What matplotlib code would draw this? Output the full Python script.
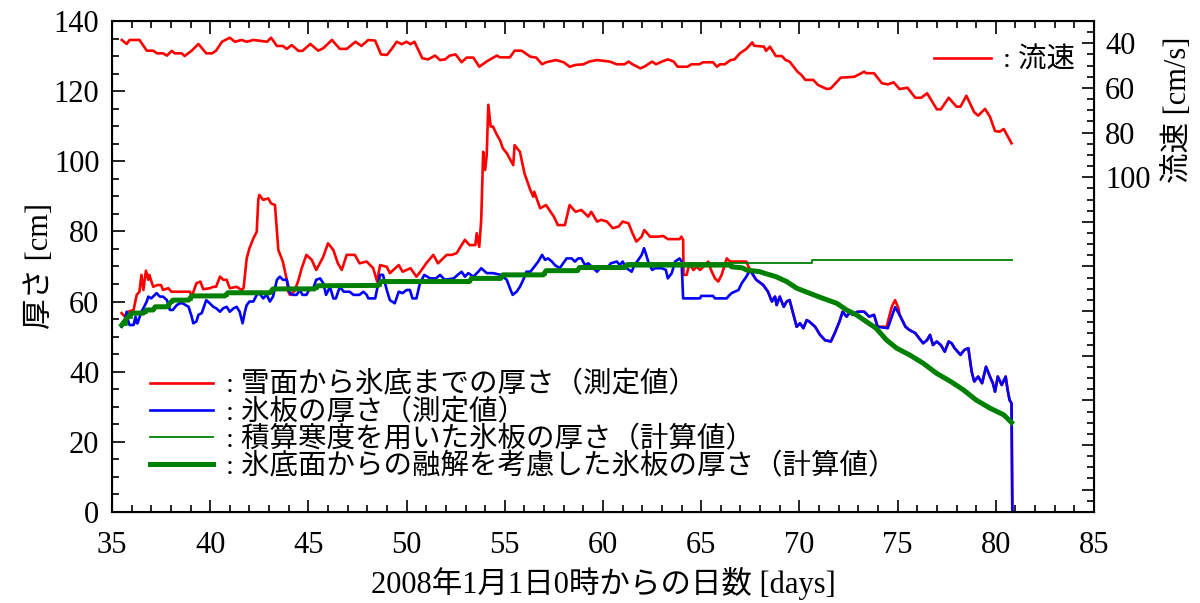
import numpy as np
import matplotlib
matplotlib.use("Agg")
import matplotlib.pyplot as plt
from matplotlib.ticker import MultipleLocator

plt.rcParams['font.family'] = ['Liberation Serif', 'Noto Sans CJK JP']

## data
# flow speed [cm/s], right axis (inverted)
flow_day = [35.5, 35.75, 35.9, 36.4, 36.77, 37.1, 37.3, 37.6, 37.8, 38.04, 38.2, 38.55, 38.7, 39.06, 39.4,
            39.8, 40.1, 40.3, 40.6, 41.0, 41.26, 41.6, 41.86, 42.2, 42.9, 43.1, 43.4, 43.7, 43.9, 44.15,
            44.5, 44.7, 45.1, 45.5, 45.76, 46.2, 46.6, 46.95, 47.4, 47.7, 48.05, 48.4, 48.7, 49.0, 49.2,
            49.5, 49.75, 50.0, 50.2, 50.4, 50.8, 51.1, 51.45, 51.7, 51.96, 52.2, 52.5, 52.8, 53.06, 53.4,
            53.7, 54.1, 54.6, 54.75, 55.26, 55.5, 55.86, 56.3, 56.6, 56.9, 57.1, 57.6, 58.0, 58.3, 58.6,
            59.0, 59.3, 59.7, 60.35, 60.7, 61.1, 61.3, 61.5, 61.9, 62.1, 62.5, 62.7, 63.0, 63.3, 63.6,
            63.8, 64.3, 64.5, 64.9, 65.1, 65.6, 65.8, 65.96, 66.2, 66.5, 66.7, 66.97, 67.3, 67.6, 67.7,
            68.2, 68.3, 68.5, 68.8, 69.1, 69.3, 69.5, 69.9, 70.1, 70.3, 70.7, 70.95, 71.4, 71.6, 72.1,
            72.8, 73.3, 73.4, 73.8, 74.2, 74.5, 74.8, 75.1, 75.5, 75.9, 76.2, 76.5, 77.0, 77.2, 77.6,
            78.0, 78.2, 78.5, 78.9, 79.1, 79.45, 79.7, 79.96, 80.2, 80.4, 80.8]
flow_val = [38.5, 40.3, 38.5, 38.5, 43.3, 43.3, 44.5, 44.5, 45.5, 43.4, 44.5, 44.5, 45.7, 43.3, 40.3,
            44.5, 44.5, 43.3, 39.3, 37.5, 39.3, 38.5, 39.3, 38.5, 39.3, 37.5, 41.2, 41.2, 42.5, 40.8,
            43.4, 43.4, 40.3, 43.3, 42.2, 38.5, 42.5, 42.5, 39.3, 41.2, 38.5, 38.8, 45.0, 45.2, 43.0,
            39.3, 40.4, 39.3, 40.4, 39.3, 46.7, 47.2, 45.5, 47.5, 47.2, 45.5, 45.0, 48.5, 46.4, 46.4,
            50.5, 48.0, 45.5, 46.3, 46.3, 43.3, 43.3, 46.0, 46.4, 49.4, 48.5, 47.5, 48.5, 50.5, 49.7,
            49.4, 48.2, 47.5, 48.2, 49.4, 49.4, 48.2, 49.4, 51.2, 50.5, 48.2, 49.4, 48.2, 47.2, 48.2,
            50.5, 50.5, 49.4, 49.4, 48.5, 48.5, 50.5, 49.4, 49.4, 47.5, 47.2, 44.5, 42.5, 39.6, 41.1,
            41.5, 43.4, 41.5, 45.7, 45.7, 47.5, 48.2, 52.7, 54.2, 56.4, 56.4, 58.7, 60.5, 60.2, 55.4,
            55.0, 52.7, 53.4, 53.4, 57.9, 58.4, 57.5, 60.5, 59.9, 64.4, 64.4, 62.4, 69.6, 69.6, 64.4,
            68.4, 68.4, 63.5, 70.9, 72.4, 69.4, 72.9, 79.3, 79.6, 78.4, 84.8]

# ice thickness, measured [cm]
ice_day = [35.49, 35.66, 35.75, 35.83, 35.9, 36.1, 36.2, 36.26, 36.3, 36.5, 36.6, 36.77, 36.85, 37.0,
           37.27, 37.44, 37.6, 37.8, 37.95, 38.1, 38.3, 38.46, 38.6, 38.9, 39.06, 39.14, 39.3, 39.4,
           39.57, 39.8, 39.98, 40.16, 40.3, 40.5, 40.67, 40.84, 41.0, 41.2, 41.35, 41.5, 41.65, 41.77,
           41.86, 42.0, 42.2, 42.37, 42.5, 42.7, 42.88, 43.04, 43.2, 43.4, 43.55, 43.7, 43.9, 44.06,
           44.2, 44.4, 44.57, 44.7, 44.9, 45.08, 45.25, 45.4, 45.6, 45.76, 45.9, 46.1, 46.27, 46.4,
           46.6, 46.8, 47.1, 47.3, 47.6, 47.8, 47.97, 48.05, 48.4, 48.65, 48.8, 48.99, 49.15, 49.4,
           49.6, 49.8, 50.0, 50.17, 50.3, 50.5, 50.68, 50.9, 51.2, 51.5, 51.7, 51.95, 52.4, 52.6,
           52.8, 52.97, 53.14, 53.4, 53.65, 53.8, 54.08, 54.4, 54.8, 55.1, 55.26, 55.4, 55.6, 55.77,
           55.94, 56.1, 56.3, 56.5, 56.7, 56.9, 57.05, 57.2, 57.4, 57.55, 57.8, 57.97, 58.15, 58.4,
           58.57, 58.74, 58.9, 59.08, 59.25, 59.5, 59.7, 59.9, 60.2, 60.4, 60.7, 60.86, 61.0, 61.2,
           61.46, 61.6, 61.8, 61.97, 62.09, 62.2, 62.3, 62.5, 62.65, 63.0, 63.2, 63.3, 63.5, 63.67,
           63.9, 64.0, 64.08, 64.94, 65.0, 65.6, 65.7, 66.3, 66.4, 66.55, 66.7, 66.9, 67.06, 67.3,
           67.48, 67.8, 68.16, 68.4, 68.6, 68.76, 68.84, 69.0, 69.2, 69.35, 69.5, 69.7, 69.86, 70.03,
           70.2, 70.37, 70.5, 70.8, 71.05, 71.3, 71.6, 71.8, 72.04, 72.2, 72.4, 72.6, 72.7, 72.96,
           73.3, 73.55, 73.8, 73.98, 74.5, 74.67, 74.87, 75.1, 75.4, 75.6, 75.9, 76.1, 76.3, 76.5,
           76.65, 76.8, 76.99, 77.2, 77.4, 77.6, 77.75, 77.9, 78.2, 78.4, 78.6, 78.77, 78.9, 79.1,
           79.3, 79.5, 79.7, 79.85, 79.96, 80.1, 80.3, 80.5, 80.6, 80.7, 80.8, 80.84]
ice_cm = [52.8, 54.7, 57.1, 54.3, 53.3, 53.3, 55.7, 53.8, 53.8, 57.1, 58.1, 60.0, 61.4, 60.9,
          62.4, 61.4, 61.4, 60.4, 57.6, 57.6, 59.0, 59.5, 59.5, 58.5, 55.7, 53.8, 54.3, 56.2,
          56.7, 60.4, 59.5, 58.5, 58.1, 57.1, 58.1, 58.5, 57.1, 58.1, 58.5, 57.1, 53.8, 57.1,
          59.0, 60.0, 60.0, 61.9, 62.4, 60.9, 61.9, 60.0, 61.4, 66.2, 67.1, 66.2, 66.2, 62.4,
          61.9, 61.9, 63.3, 61.9, 61.9, 63.8, 63.8, 66.2, 66.6, 65.2, 61.9, 64.2, 60.9, 60.9,
          64.2, 62.8, 62.8, 61.9, 61.9, 62.8, 61.9, 60.9, 60.9, 67.6, 67.6, 63.3, 60.4, 59.5,
          62.8, 62.4, 63.3, 63.3, 60.9, 60.9, 65.2, 67.6, 66.6, 66.6, 67.6, 66.2, 66.6, 67.6,
          68.5, 67.1, 68.1, 67.1, 68.5, 69.5, 68.1, 68.1, 67.6, 66.2, 63.8, 61.9, 62.8, 64.2,
          66.2, 68.5, 68.5, 69.9, 71.4, 73.3, 71.9, 72.3, 71.4, 70.4, 69.5, 70.9, 72.3, 72.3,
          71.4, 72.3, 72.3, 70.4, 70.9, 69.5, 68.5, 69.9, 69.5, 70.9, 71.4, 70.4, 71.4, 69.5,
          68.5, 70.4, 71.9, 73.3, 75.2, 73.3, 71.4, 69.0, 69.5, 69.5, 69.0, 66.6, 68.1, 71.4,
          72.3, 71.4, 60.9, 60.9, 61.6, 61.6, 60.9, 60.9, 61.6, 62.4, 62.8, 63.3, 65.2, 67.1,
          69.0, 66.2, 64.7, 62.8, 60.0, 61.4, 59.0, 61.4, 58.5, 60.0, 60.4, 56.2, 52.8, 53.8,
          52.4, 54.7, 54.3, 52.8, 50.5, 49.0, 48.6, 51.0, 54.3, 57.1, 55.7, 57.1, 56.2, 57.1,
          57.1, 55.7, 56.2, 52.8, 52.4, 55.2, 58.4, 56.2, 52.8, 51.9, 51.0, 49.5, 48.1, 49.0,
          50.5, 47.6, 48.6, 47.6, 45.7, 48.6, 48.1, 46.7, 44.8, 46.2, 46.7, 40.0, 37.2, 38.6,
          36.7, 41.4, 38.6, 36.7, 34.3, 38.6, 36.2, 38.6, 34.8, 31.9, 31.0, 0.0]

# snow surface to ice bottom, measured [cm] (up to day 67.5, then same as ice except bump)
snow_day = [35.49, 35.66, 35.83, 36.1, 36.26, 36.4, 36.5, 36.6, 36.73, 36.85, 36.9, 37.1, 37.3, 37.5,
            37.6, 37.87, 38.03, 38.97, 39.06, 39.3, 39.5, 39.65, 39.99, 40.16, 40.3, 40.5, 40.67,
            40.84, 41.0, 41.35, 41.6, 41.7, 41.86, 42.0, 42.2, 42.37, 42.45, 42.5, 42.7, 42.96, 43.1,
            43.3, 43.47, 43.7, 43.9, 43.98, 44.06, 44.3, 44.5, 44.66, 44.9, 45.17, 45.4, 45.68, 45.76,
            46.0, 46.27, 46.5, 46.7, 46.95, 47.37, 47.6, 47.97, 48.3, 48.5, 48.65, 48.99, 49.15, 49.6,
            49.8, 50.2, 50.5, 50.7, 51.0, 51.36, 51.6, 52.04, 52.3, 52.55, 52.7, 52.97, 53.2, 53.5,
            53.57, 53.7, 53.8, 53.9, 54.0, 54.08, 54.16, 54.28, 54.4, 54.6, 54.75, 54.9, 55.1, 55.43,
            55.5, 55.77, 56.0, 56.3, 56.45, 56.5, 56.8, 57.1, 57.5, 57.7, 58.06, 58.3, 58.6, 58.9,
            59.25, 59.4, 59.7, 59.9, 60.2, 60.5, 60.8, 61.0, 61.3, 61.5, 61.7, 61.97, 62.1, 62.4,
            62.8, 63.07, 63.3, 63.9, 63.99, 64.08, 64.1, 64.26, 64.4, 64.6, 64.77, 64.94, 65.1, 65.36,
            65.5, 65.7, 65.87, 66.04, 66.3, 66.47, 66.6, 66.9, 67.3]
snow_cm = [56.7, 55.7, 57.1, 57.6, 61.9, 62.8, 67.6, 63.3, 68.8, 66.2, 67.6, 64.2, 64.7, 64.7,
           63.3, 63.8, 62.8, 62.8, 61.4, 65.2, 65.7, 63.5, 63.8, 64.2, 64.2, 67.1, 66.2,
           66.2, 63.8, 64.2, 63.3, 63.8, 72.3, 75.2, 78.0, 79.9, 89.0, 90.4, 89.0, 89.4, 88.0,
           87.5, 74.7, 71.4, 66.2, 62.8, 61.9, 63.0, 66.2, 69.5, 73.3, 71.9, 69.0, 71.9, 72.8,
           76.6, 74.7, 70.9, 69.0, 73.3, 73.3, 70.9, 71.4, 69.5, 65.7, 70.4, 69.9, 68.1, 70.4,
           68.5, 69.5, 67.1, 68.5, 70.9, 73.3, 70.9, 73.3, 73.3, 73.8, 75.2, 77.6, 76.1, 76.1,
           79.5, 75.6, 83.3, 102.7, 97.5, 101.8, 116.1, 109.9, 109.9, 107.5, 106.1, 103.7, 102.3, 98.9,
           104.6, 102.7, 96.6, 91.8, 89.9, 91.3, 86.6, 87.5, 84.2, 81.8, 81.8, 87.5, 85.6, 86.1,
           84.2, 85.6, 82.8, 83.3, 82.8, 80.9, 81.4, 82.8, 82.3, 79.5, 77.1, 78.5, 80.4, 78.5,
           78.5, 78.7, 77.8, 77.8, 78.5, 77.6, 67.6, 67.6, 70.9, 69.0, 69.9, 69.0, 69.9, 71.4,
           69.0, 66.6, 65.7, 67.6, 72.3, 71.4, 71.4, 71.4, 71.4]
bump_day = [74.44, 74.7, 74.87, 75.04]
bump_cm = [52.8, 58.5, 60.4, 58.1]

# ice thickness from degree-days (thin green), step values
fdd_day = [35.5, 35.75, 36.0, 36.77, 37.2, 37.95, 38.1, 39.06, 40.9, 43.2, 45.5, 48.7, 53.3, 54.9,
           57.1, 58.8, 61.2, 70.66, 80.8]
fdd_cm = [53.3, 55.2, 56.7, 57.6, 58.5, 59.5, 60.4, 61.6, 62.5, 63.6, 64.5, 65.7, 66.6, 67.6,
          68.8, 69.7, 71.0, 71.8, 71.8]

# ice thickness with bottom melting (thick green)
melt_day = [35.5, 35.75, 36.0, 36.6, 36.77, 37.1, 37.2, 37.8, 37.95, 38.1, 38.9, 39.06, 40.75, 40.9,
            43.04, 43.2, 45.3, 45.5, 48.56, 48.7, 53.2, 53.3, 54.8, 54.9, 56.96, 57.1, 58.7, 58.8,
            61.1, 61.2, 66.5, 66.55, 67.1, 67.3, 67.99, 68.2, 68.8, 69.35, 69.86, 70.5, 71.2, 71.9,
            72.4, 72.9, 73.4, 73.9, 74.44, 74.95, 75.6, 76.3, 76.99, 77.7, 78.35, 79.0, 79.7, 80.4, 80.8]
melt_cm = [53.3, 55.2, 56.7, 56.7, 57.6, 57.6, 58.5, 58.5, 59.5, 60.4, 60.4, 61.6, 61.6, 62.5,
           62.5, 63.6, 63.6, 64.5, 64.6, 65.7, 65.7, 66.6, 66.6, 67.6, 67.6, 68.8, 68.8, 69.7,
           69.7, 70.4, 70.4, 69.9, 69.6, 69.0, 68.5, 68.1, 67.1, 65.7, 63.8, 62.4, 60.9, 59.5,
           57.6, 56.2, 54.3, 52.4, 49.0, 46.7, 44.8, 42.4, 39.5, 37.2, 34.8, 31.9, 29.6, 27.7, 25.5]

labels = [': 雪面から氷底までの厚さ（測定値）', ': 氷板の厚さ（測定値）',
          ': 積算寒度を用いた氷板の厚さ（計算値）', ': 氷底面からの融解を考慮した氷板の厚さ（計算値）']
right_ticks = [40, 60, 80, 100, 120, 140, 160, 180, 200, 220, 240]
right_ticklabels = ['40', '60', '80', '100', '', '', '', '', '', '', '']

## red snow line after day 67.5 follows the ice line, with the bump near day 75
ice_day = np.array(ice_day)
ice_cm = np.array(ice_cm)
before = (ice_day >= 67.48) & (ice_day < 74.44)
after = ice_day > 75.04
snow_x = np.concatenate([snow_day, ice_day[before], bump_day, ice_day[after]])
snow_y = np.concatenate([snow_cm, ice_cm[before], bump_cm, ice_cm[after]])

## figure
fig = plt.figure(figsize=(12, 6.03), dpi=100)
ax = fig.add_axes([0.0933, 0.151, 0.8184, 0.8142])

l1, = ax.plot(snow_x, snow_y, color='#ff0000', lw=1.9, label=labels[0])
l2, = ax.plot(ice_day, ice_cm, color='#0000ff', lw=1.9, label=labels[1])
l3, = ax.plot(fdd_day, fdd_cm, color='#008000', lw=1.3, drawstyle='steps-post', label=labels[2])
l4, = ax.plot(melt_day, melt_cm, color='#008000', lw=3.6, label=labels[3])

ax.set_xlim(35, 85)
ax.set_ylim(0, 140)
ax.xaxis.set_major_locator(MultipleLocator(5))
ax.xaxis.set_minor_locator(MultipleLocator(1))
ax.yaxis.set_major_locator(MultipleLocator(20))
ax.yaxis.set_minor_locator(MultipleLocator(5))
ax.tick_params(which='both', direction='in', top=True, right=False, labelsize=22, width=1.2)
ax.tick_params(which='major', length=9)
ax.tick_params(which='minor', length=5)
ax.tick_params(axis='x', which='both', pad=14)
ax.tick_params(axis='y', which='both', pad=9)
for s in ax.spines.values():
    s.set_linewidth(1.5)

ax.set_xlabel('2008年1月1日0時からの日数 [days]', fontsize=22)
ax.xaxis.set_label_coords(0.5, -0.112)
ax.set_ylabel('厚さ [cm]', fontsize=22)
ax.yaxis.set_label_coords(-0.058, 0.5)

ax.legend(handles=[l1, l2, l3, l4], loc='lower left', bbox_to_anchor=(0.039, 0.065),
          frameon=False, fontsize=20.5, handlelength=2.2, handletextpad=0.45,
          labelspacing=0.0, borderaxespad=0, borderpad=0)

# right axis: flow speed (inverted)
ax2 = ax.twinx()
l5, = ax2.plot(flow_day, flow_val, color='#ff0000', lw=1.9, label=': 流速')
ax2.set_ylim(250, 30)
ax2.set_yticks(right_ticks)
ax2.set_yticklabels(right_ticklabels)
ax2.yaxis.set_minor_locator(MultipleLocator(5))
ax2.tick_params(which='both', direction='in', labelsize=22, width=1.2, pad=8)
ax2.tick_params(which='major', length=9)
ax2.tick_params(which='minor', length=5)
ax2.set_ylabel('流速 [cm/s]', fontsize=22)
ax2.yaxis.set_label_coords(1.07, 0.82)
ax2.legend(handles=[l5], loc='upper right', bbox_to_anchor=(0.981, 0.945), frameon=False,
           fontsize=20.5, handlelength=2.0, handletextpad=0.45, borderaxespad=0, borderpad=0)

fig.savefig('out.png', dpi=100)
